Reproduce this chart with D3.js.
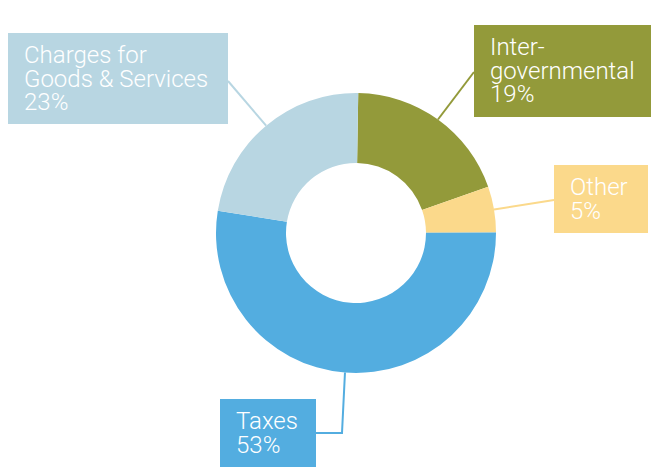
<!DOCTYPE html>
<html>
<head>
<meta charset="utf-8">
<script src="https://cdn.jsdelivr.net/npm/d3@7"></script>
<style>
	body { margin: 0; background: #fff; }
	svg { display: block; font-family: Roboto, "Noto Sans", sans-serif; }
</style>
</head>
<body>
<svg id="chart" width="651" height="467"></svg>
<script>
// revenue shares, clockwise from the top
const categories = ["Intergovernmental", "Other", "Taxes", "Charges for Goods & Services"];
const shares = [19.4, 5.3, 52.6, 22.7];
const labelLines = [["Inter-", "governmental"], ["Other"], ["Taxes"], ["Charges for", "Goods & Services"]];
const pctLabels = ["19%", "5%", "53%", "23%"];
const colors = ["#939a3a", "#fbd98b", "#53ade0", "#b8d6e2"];

// label box layout (x, y, w, h, side the leader line attaches to)
const boxes = [
	{ x: 474, y: 25, w: 177, h: 92, side: "left", ay: 72 },
	{ x: 554, y: 165, w: 94, h: 68, side: "left", ay: 200 },
	{ x: 220, y: 399, w: 96, h: 68, side: "right", ay: 433, elbow: 342 },
	{ x: 8, y: 33, w: 220, h: 91, side: "right", ay: 81 },
];

const svg = d3.select("#chart");
const cx = 356, cy = 233;
const outerR = 140, innerR = 70;

const pie = d3.pie().sort(null).value((d) => d)
	.startAngle(0.016).endAngle(0.016 + 2 * Math.PI);
const arcs = pie(shares);

const arc = d3.arc().innerRadius(innerR).outerRadius(outerR);
const edgeArc = d3.arc().innerRadius(outerR).outerRadius(outerR);

const g = svg.append("g").attr("transform", `translate(${cx},${cy})`);

g.selectAll("path.slice")
	.data(arcs)
	.enter()
	.append("path")
	.attr("class", "slice")
	.attr("d", arc)
	.attr("fill", (d, i) => colors[i]);

//leader lines
arcs.forEach((d, i) => {
	const b = boxes[i];
	const p = edgeArc.centroid(d);
	const px = cx + p[0], py = cy + p[1];
	const bx = b.side === "left" ? b.x : b.x + b.w;
	let pts;
	if (b.elbow) pts = [[px, py], [b.elbow, b.ay], [bx, b.ay]];
	else pts = [[px, py], [bx, b.ay]];
	svg.append("path")
		.attr("d", d3.line()(pts))
		.attr("fill", "none")
		.attr("stroke", colors[i])
		.attr("stroke-width", 2);
});

//label boxes
const lab = svg.selectAll("g.lab")
	.data(boxes)
	.enter()
	.append("g")
	.attr("class", "lab");

lab.append("rect")
	.attr("x", (b) => b.x)
	.attr("y", (b) => b.y)
	.attr("width", (b) => b.w)
	.attr("height", (b) => b.h)
	.attr("fill", (b, i) => colors[i]);

lab.each(function (b, i) {
	const lines = labelLines[i].concat([pctLabels[i]]);
	const t = d3.select(this).append("text")
		.attr("fill", "#fff")
		.style("font-size", "24px")
		.style("font-weight", 300);
	lines.forEach((s, k) => {
		t.append("tspan")
			.attr("x", b.x + 16)
			.attr("y", b.y + 30 + k * 23.5)
			.text(s);
	});
});
</script>
</body>
</html>
